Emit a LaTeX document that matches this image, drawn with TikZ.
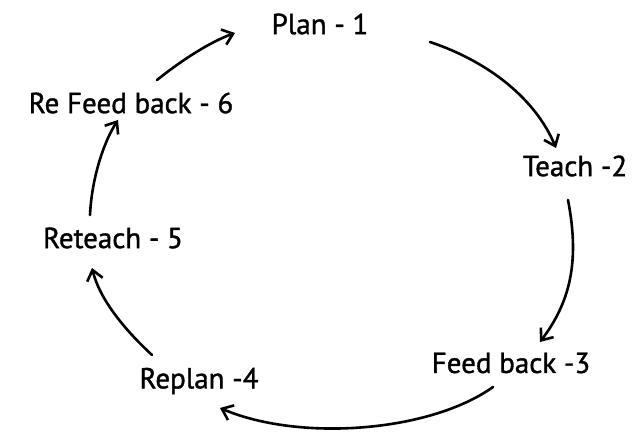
\documentclass[tikz,border=0pt]{standalone}
\usepackage{fontspec}
\newfontfamily\lblfont[FakeBold=1.2]{PT Sans}
\usetikzlibrary{arrows.meta}
\begin{document}
\begin{tikzpicture}[x=1pt,y=-1pt,
  lbl/.style={font=\lblfont\fontsize{29}{32}\selectfont, inner sep=0pt, anchor=center},
  cyc/.style={line width=2.6pt, line cap=round, -{Straight Barb[length=10pt,width=16pt,line width=2.6pt]}}]
\useasboundingbox (0,0) rectangle (641,433);
\node[lbl] (plan) at (320,24) {Plan - 1};
\node[lbl] (teach) at (575,166) {Teach -2};
\node[lbl] (fb) at (511,363) {Feed back -3};
\node[lbl] (replan) at (199,381) {Replan -4};
\node[lbl] (reteach) at (113,238) {Reteach - 5};
\node[lbl] (refb) at (131,103) {Re Feed back - 6};
\coordinate (a1s) at (430,42);  \coordinate (a1e) at (556,148);
\coordinate (a2s) at (568,200); \coordinate (a2e) at (540,342);
\coordinate (a3s) at (493,387); \coordinate (a3e) at (220,408);
\coordinate (a4s) at (152,355); \coordinate (a4e) at (92,268);
\coordinate (a5s) at (90,215);  \coordinate (a5e) at (118,120);
\coordinate (a6s) at (157,80);  \coordinate (a6e) at (235,33);
\draw[cyc] (a1s) .. controls (490,62) and (536,100) .. (a1e);
\draw[cyc] (a2s) .. controls (580,262) and (570,302) .. (a2e);
\draw[cyc] (a3s) .. controls (430,432) and (300,442) .. (a3e);
\draw[cyc] (a4s) .. controls (125,330) and (100,300) .. (a4e);
\draw[cyc] (a5s) .. controls (92,175) and (105,140) .. (a5e);
\draw[cyc] (a6s) .. controls (182,60) and (210,42) .. (a6e);
\end{tikzpicture}
\end{document}
